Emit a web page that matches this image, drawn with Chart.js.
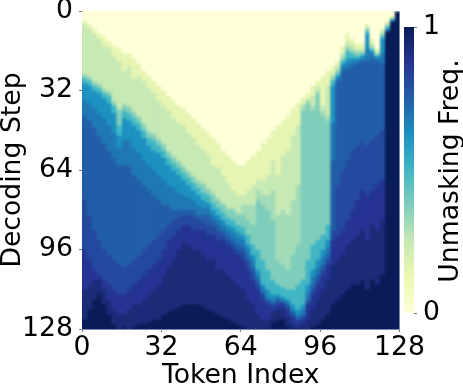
<!DOCTYPE html>
<html>
<head>
<meta charset="utf-8">
<script src="https://cdn.jsdelivr.net/npm/chart.js@4/dist/chart.umd.min.js"></script>
<style>
  html, body { margin: 0; padding: 0; background: #fff; }
  #wrap { position: relative; width: 463px; height: 389px; overflow: hidden; }
  canvas { position: absolute; left: 0; top: 0; }
</style>
</head>
<body>
<div id="wrap">
  <canvas id="heat" width="463" height="389"></canvas>
  <canvas id="bar" width="463" height="389"></canvas>
</div>
<script>
// columns, two tokens wide
const tokenIndex = [0,2,4,6,8,10,12,14,16,18,20,22,24,26,28,30,32,34,36,38,40,42,44,46,48,50,52,54,56,58,60,62,64,66,68,70,72,74,76,78,80,82,84,86,88,90,92,94,96,98,100,102,104,106,108,110,112,114,116,118,120,122,124,126];

// colour of each band, light to dark
const bandColors = ['#ffffd9','#e6f5b2','#c7e9b4','#a3dbb7','#7fcdbb','#41b6c4','#1d91c0','#1f78b4','#225ea8','#24499e','#253494','#1a2c78','#081d58'];
const colorbarStops = ['#ffffd9','#edf8b1','#c7e9b4','#7fcdbb','#41b6c4','#1d91c0','#225ea8','#253494','#081d58'];

// decoding step where each band starts, per column
const paleStart = [4,5,7,9,10,12,14,15,17,17,19,21,24,26,28,30,32,34,36,38,39,41,43,45,47,49,51,53,56,58,60,62,62,60,58,56,53,51,48,46,44,42,39,37,35,33,30,28,26,24,22,20,14,9,11,13,13,5,11,15,7,4,2,0];
const greenStart = [5,7,9,11,14,15,18,20,24,22,27,26,28,31,33,36,38,40,43,45,46,49,51,54,56,58,62,63,66,69,72,74,74,72,70,68,68,66,60,66,58,56,50,46,37,35,34,30,38,30,25,22,17,12,13,15,15,6,13,16,8,5,2,0];
const seaStart = [25,26,28,29,31,32,36,39,37,38,40,42,45,48,49,51,53,56,58,60,62,64,66,68,69,71,73,75,77,79,79,81,78,78,78,72,74,74,72,82,80,82,76,70,38,36,38,32,40,42,26,23,18,14,15,16,16,7,14,17,9,5,3,0];
const mintStart = [26,27,29,30,32,33,37,40,38,39,41,43,46,49,50,52,54,57,59,61,63,65,67,69,70,72,74,76,78,80,80,82,82,84,86,76,78,80,84,100,102,104,98,94,40,37,40,33,42,44,27,24,19,15,16,17,17,7,15,17,9,6,3,0];
const tealStart = [27,28,30,31,33,34,38,46,40,41,43,45,48,51,52,54,56,59,61,63,65,67,69,71,73,74,77,79,81,83,84,86,87,90,94,96,100,104,108,110,111,112,112,110,108,100,94,92,90,86,28,25,20,16,17,18,17,8,15,18,10,6,3,0];
const skyStart = [29,30,32,33,35,37,41,50,43,44,46,48,51,54,56,57,59,62,64,66,68,70,72,74,76,77,80,82,84,86,87,89,90,94,98,104,110,112,114,114,115,116,118,120,118,110,104,100,96,92,30,26,21,19,19,19,18,9,16,18,11,7,3,0];
const azureStart = [36,37,39,41,43,46,49,55,52,52,55,57,60,62,64,66,68,70,71,73,74,75,76,78,79,79,82,84,86,88,89,91,92,96,100,106,111,115,116,115,116,117,120,122,120,113,107,103,99,95,45,27,22,21,20,20,19,15,17,19,17,7,4,0];
const blueStart = [42,44,47,50,53,56,59,62,62,62,66,68,70,72,74,76,78,78,80,80,80,80,80,82,82,82,84,86,88,90,92,94,95,99,103,108,113,116,117,116,117,118,121,123,122,116,110,106,102,98,60,28,24,23,22,21,20,20,19,20,21,8,4,0];
const royalStart = [76,82,88,92,96,98,100,102,103,102,100,98,96,94,92,90,88,86,84,83,82,82,83,84,85,86,87,89,90,92,94,96,97,101,105,110,114,117,118,117,117,119,122,124,123,117,112,108,104,100,88,70,64,60,56,54,52,54,52,50,48,8,4,0];
const indigoStart = [96,100,104,106,108,110,112,114,114,112,110,108,106,104,102,100,96,92,90,88,86,86,88,88,88,90,90,92,92,94,96,98,100,104,108,112,116,118,119,118,118,120,123,125,124,118,114,110,106,102,92,90,88,84,80,76,72,74,72,70,68,8,4,0];
const deepStart = [112,110,108,108,112,116,120,122,122,120,118,118,116,114,112,110,106,103,100,96,93,94,96,96,98,100,100,104,104,106,108,110,112,116,118,122,124,124,121,120,120,123,126,127,126,124,120,116,112,108,102,100,98,94,92,90,88,92,86,88,84,8,4,0];
const navyStart = [124,120,116,114,118,122,126,128,127,128,127,126,126,125,124,124,122,121,120,119,118,118,118,118,119,120,121,122,123,124,125,126,127,128,128,128,128,128,125,124,124,127,128,128,128,128,127,126,124,122,118,116,114,112,110,110,108,112,108,110,106,8,4,0];

const bandStarts = [paleStart, greenStart, seaStart, mintStart, tealStart, skyStart, azureStart, blueStart, royalStart, indigoStart, deepStart, navyStart];

const datasets = bandColors.map((color, k) => ({
    data: tokenIndex.map((_, i) => {
        const from = k === 0 ? 0 : bandStarts[k - 1][i];
        const to = k === bandColors.length - 1 ? 128 : bandStarts[k][i];
        return [from, Math.max(from, to)];
    }),
    backgroundColor: color,
    borderWidth: 0,
    grouped: false,
    barPercentage: 1,
    categoryPercentage: 1
}));

const labelFont = { family: '"DejaVu Sans"', size: 26.67, lineHeight: 1 };

// softens the cells the way the original image is resampled
const softenCells = {
    id: 'softenCells',
    afterDatasetsDraw(chart) {
        const a = chart.chartArea, ctx = chart.ctx;
        const w = a.right - a.left, h = a.bottom - a.top;
        ctx.save();
        ctx.beginPath();
        ctx.rect(a.left, a.top, w, h);
        ctx.clip();
        ctx.filter = 'blur(1.3px)';
        ctx.drawImage(chart.canvas, a.left, a.top, w, h, a.left, a.top, w, h);
        ctx.restore();
    }
};

new Chart(document.getElementById('heat'), {
    type: 'bar',
    plugins: [softenCells],
    data: { labels: tokenIndex, datasets: datasets },
    options: {
        responsive: false,
        animation: false,
        events: [],
        layout: { padding: { top: 11, right: 63.5, left: 0, bottom: 0 } },
        plugins: { legend: { display: false }, tooltip: { enabled: false } },
        scales: {
            x: { display: false },
            y: {
                min: 0, max: 128, reverse: true,
                ticks: { stepSize: 32, color: '#000', font: labelFont, padding: 6 },
                grid: { drawOnChartArea: false, tickLength: 3, color: '#777' },
                border: { color: '#7a8ab0' },
                title: { display: true, text: 'Decoding Step', color: '#000', font: labelFont, padding: { top: 0, bottom: 0 } },
                afterFit(scale) { scale.width = 82; scale.paddingTop = 0; scale.paddingBottom = 0; }
            },
            xt: {
                type: 'linear', position: 'bottom', offset: false,
                min: 0, max: 128,
                ticks: { stepSize: 32, color: '#000', font: labelFont, padding: 3, maxRotation: 0 },
                grid: { offset: false, drawOnChartArea: false, tickLength: 3, color: '#777' },
                border: { color: '#7a8ab0' },
                title: { display: true, text: 'Token Index', color: '#000', font: labelFont, padding: { top: 0, bottom: 0 } },
                afterFit(scale) { scale.height = 60; scale.paddingLeft = 0; scale.paddingRight = 0; }
            }
        }
    }
});

// colorbar with its title
const colorbarTitle = {
    id: 'colorbarTitle',
    afterDraw(chart) {
        const ctx = chart.ctx;
        ctx.save();
        ctx.translate(458, 171);
        ctx.rotate(-Math.PI / 2);
        ctx.font = '26.67px "DejaVu Sans"';
        ctx.fillStyle = '#000';
        ctx.textAlign = 'center';
        ctx.textBaseline = 'alphabetic';
        ctx.fillText('Unmasking Freq.', 0, 0);
        ctx.restore();
    }
};

new Chart(document.getElementById('bar'), {
    type: 'bar',
    plugins: [colorbarTitle],
    data: {
        labels: [''],
        datasets: [{
            data: [[0, 1]],
            borderWidth: 0,
            barPercentage: 1,
            categoryPercentage: 1,
            backgroundColor(context) {
                const area = context.chart.chartArea;
                if (!area) return '#ffffd9';
                const g = context.chart.ctx.createLinearGradient(0, area.bottom, 0, area.top);
                colorbarStops.forEach((c, i) => g.addColorStop(i / (colorbarStops.length - 1), c));
                return g;
            }
        }]
    },
    options: {
        responsive: false,
        animation: false,
        events: [],
        layout: { padding: { left: 404, right: 0, top: 27, bottom: 76 } },
        plugins: { legend: { display: false }, tooltip: { enabled: false } },
        scales: {
            x: { display: false },
            y: {
                position: 'right',
                min: 0, max: 1,
                ticks: { stepSize: 1, color: '#000', font: labelFont, padding: 6 },
                grid: { drawOnChartArea: false, tickLength: 3, color: '#777' },
                border: { display: false },
                afterFit(scale) { scale.width = 49; scale.paddingTop = 0; scale.paddingBottom = 0; }
            }
        }
    }
});
</script>
</body>
</html>
